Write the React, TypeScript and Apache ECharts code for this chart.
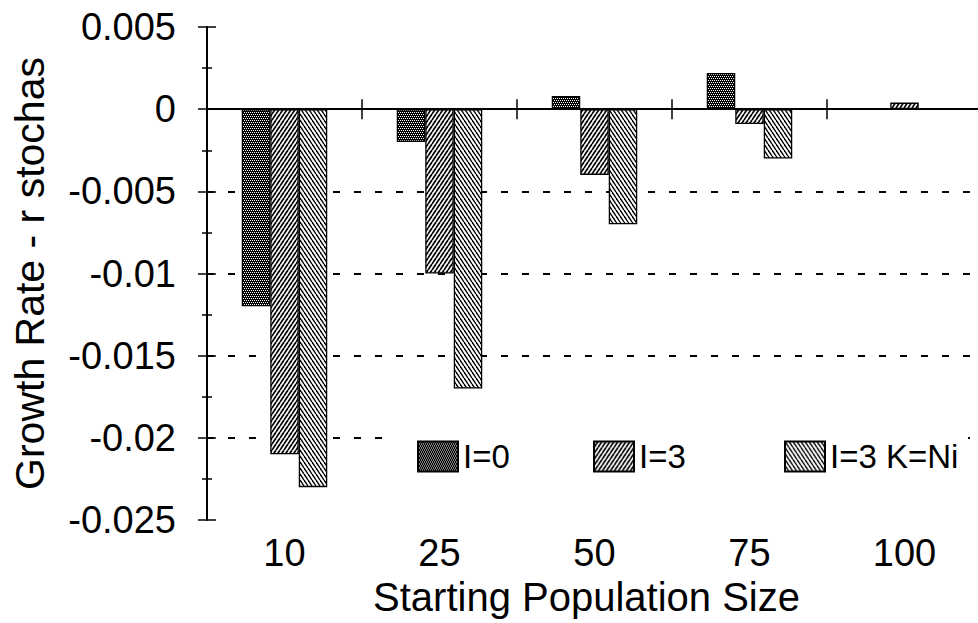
import React, { useEffect, useRef } from "react";
import * as echarts from "echarts";

const categories = ["10", "25", "50", "75", "100"];
const seriesNames = ["I=0", "I=3", "I=3 K=Ni"];
const valuesI0 = [-0.012, -0.002, 0.0008, 0.0022, 0];
const valuesI3 = [-0.021, -0.01, -0.004, -0.0009, 0.0004];
const valuesI3K = [-0.023, -0.017, -0.007, -0.003, 0];
const yMin = -0.025;
const yMax = 0.005;
const yInterval = 0.005;
const xTitle = "Starting Population Size";
const yTitle = "Growth Rate - r stochas";

const FONT = "'Liberation Sans', Arial, Helvetica, sans-serif";

function makeStipple(): HTMLCanvasElement {
  const c = document.createElement("canvas");
  c.width = 4;
  c.height = 4;
  const g = c.getContext("2d")!;
  g.fillStyle = "#000";
  g.fillRect(0, 0, 4, 4);
  g.fillStyle = "#fff";
  g.fillRect(0, 0, 1, 1);
  g.fillRect(2, 0, 1, 1);
  g.fillRect(1, 2, 1, 1);
  g.fillRect(3, 2, 1, 1);
  return c;
}

function makeHatch(rising: boolean, lw: number): HTMLCanvasElement {
  const w = 4;
  const h = 6;
  const c = document.createElement("canvas");
  c.width = w;
  c.height = h;
  const g = c.getContext("2d")!;
  g.fillStyle = "#fff";
  g.fillRect(0, 0, w, h);
  g.strokeStyle = "#000";
  g.lineWidth = lw;
  for (let k = -1; k <= 1; k++) {
    g.beginPath();
    if (rising) {
      g.moveTo(k * w, h);
      g.lineTo(k * w + w, 0);
    } else {
      g.moveTo(k * w, 0);
      g.lineTo(k * w + w, h);
    }
    g.stroke();
  }
  return c;
}

export default function App() {
  const ref = useRef<HTMLDivElement>(null);

  useEffect(() => {
    if (!ref.current) return;
    const chart = echarts.init(ref.current, null, { renderer: "svg" });
    const fills = [
      { image: makeStipple(), repeat: "repeat" },
      { image: makeHatch(true, 1.7), repeat: "repeat" },
      { image: makeHatch(false, 1.4), repeat: "repeat" },
    ];
    const seriesData = [valuesI0, valuesI3, valuesI3K];
    const fmt = (v: number) => String(+(+v).toFixed(4));
    const axisColor = "#000";

    const legendLefts = [412, 588, 779];

    const option: any = {
      animation: false,
      backgroundColor: "#fff",
      textStyle: { fontFamily: FONT, color: "#000" },
      grid: {
        left: 207,
        top: 27,
        width: 775,
        height: 493,
        containLabel: false,
        outerBoundsMode: "none",
      },
      graphic: [
        {
          type: "rect",
          left: 396,
          top: 426,
          z: 3,
          silent: true,
          shape: { width: 572, height: 46 },
          style: { fill: "#fff" },
        },
      ],
      legend: seriesNames.map((n, i) => ({
        data: [n],
        left: legendLefts[i],
        top: 435,
        z: 5,
        itemWidth: 40,
        itemHeight: 30,
        icon: "rect",
        selectedMode: false,
        textStyle: { fontSize: 33, color: "#000", fontFamily: FONT },
      })),
      xAxis: [
        {
          type: "category",
          data: categories,
          position: "bottom",
          axisLine: { show: true, lineStyle: { color: axisColor, width: 2 } },
          axisTick: { show: true, length: 10, lineStyle: { color: axisColor, width: 1.5 } },
          axisLabel: { fontSize: 38, color: "#000", margin: 14, fontFamily: FONT },
          name: xTitle,
          nameLocation: "middle",
          nameGap: 45,
          nameTextStyle: { fontSize: 40, color: "#000", fontFamily: FONT, padding: [0, 16, 0, 0] },
          splitLine: { show: false },
        },
        {
          type: "category",
          data: categories,
          position: "bottom",
          axisLine: { show: false },
          axisTick: { show: true, inside: true, length: 10, lineStyle: { color: axisColor, width: 1.5 } },
          axisLabel: { show: false },
          splitLine: { show: false },
        },
      ],
      yAxis: [
        {
          type: "value",
          min: yMin,
          max: yMax,
          interval: yInterval,
          axisLine: { show: true, lineStyle: { color: axisColor, width: 2 } },
          axisTick: { show: true, length: 9, lineStyle: { color: axisColor, width: 1.5 } },
          minorTick: { show: true, splitNumber: 2, length: 5, lineStyle: { color: axisColor, width: 1.5 } },
          axisLabel: { fontSize: 38, color: "#000", margin: 31, fontFamily: FONT, formatter: fmt },
          splitLine: {
            show: true,
            showMinLine: false,
            showMaxLine: false,
            lineStyle: { color: "#000", width: 2, type: [7, 14] },
          },
          name: yTitle,
          nameLocation: "middle",
          nameRotate: 90,
          nameGap: 157,
          nameTextStyle: { fontSize: 41, color: "#000", fontFamily: FONT },
        },
        {
          type: "value",
          min: yMin,
          max: yMax,
          interval: yInterval,
          position: "left",
          axisLine: { show: false },
          axisTick: { show: true, inside: true, length: 9, lineStyle: { color: axisColor, width: 1.5 } },
          minorTick: { show: true, splitNumber: 2, length: 5, lineStyle: { color: axisColor, width: 1.5 } },
          axisLabel: { show: false },
          splitLine: { show: false },
        },
      ],
      series: seriesNames.map((n, i) => ({
        name: n,
        type: "bar",
        xAxisIndex: 0,
        yAxisIndex: 0,
        data: seriesData[i],
        barWidth: 28.5,
        barGap: "0%",
        itemStyle: { color: fills[i], borderColor: "#000", borderWidth: 1.3 },
        ...(i === 2
          ? {
              markLine: {
                silent: true,
                symbol: ["none", "none"],
                label: { show: false },
                lineStyle: { color: "#000", type: "solid", width: 2 },
                data: [{ yAxis: 0 }],
                z: 10,
              },
            }
          : {}),
      })),
    };
    chart.setOption(option);
    return () => chart.dispose();
  }, []);

  return (
    <div
      ref={ref}
      style={{ position: "fixed", left: 0, top: 0, width: 978, height: 623, background: "#fff" }}
    />
  );
}
